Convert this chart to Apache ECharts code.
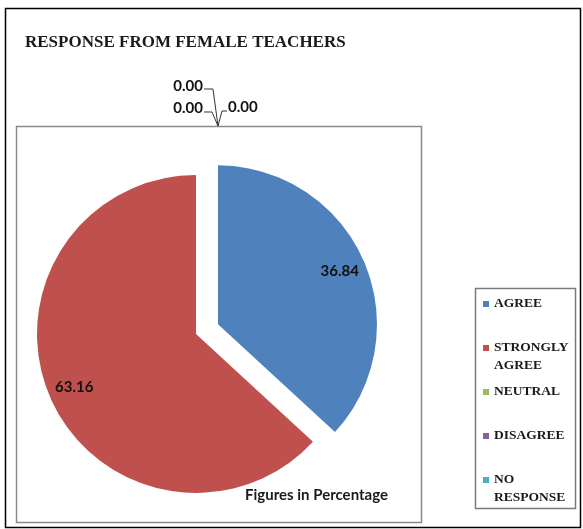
<!DOCTYPE html>
<html><head><meta charset="utf-8">
<script src="https://cdn.jsdelivr.net/npm/echarts@6/dist/echarts.min.js"></script>
<style>html,body{margin:0;padding:0;background:#fff}#c{width:583px;height:529px}</style>
</head><body><div id="c"></div>
<script>
// ---- data ----
const titleText = 'RESPONSE FROM FEMALE TEACHERS';
const noteText = 'Figures in Percentage';
const categories = ['AGREE', 'STRONGLY AGREE', 'NEUTRAL', 'DISAGREE', 'NO RESPONSE'];
const legendLines = [['AGREE', ''], ['STRONGLY', 'AGREE'], ['NEUTRAL', ''], ['DISAGREE', ''], ['NO', 'RESPONSE']];
const values = [36.84, 63.16, 0.00, 0.00, 0.00];
const colors = ['#4F81BD', '#C0504D', '#9BBB59', '#8064A2', '#4BACC6'];
const explodedIndex = 0;

// ---- layout / style ----
const CENTER = [196, 334];
const R = 159;
const OFFSET = 24;
const LABEL_R = 130;
// zero-value label placement relative to the convergence point of their leader lines
const zeroLabels = {
  3: { dx: -15, dy: -40, align: 'right', line: [[-14, -37], [-5, -37], [0, 0]] },
  2: { dx: -15, dy: -18, align: 'right', line: [[-14, -14], [-6, -14], [0, 0]] },
  4: { dx: 10, dy: -19, align: 'left', line: [[9, -15], [4, -15], [0, 0]] }
};

const labelFont = { fontFamily: 'Lato', fontWeight: 'bold', fontSize: 15, color: '#111' };

const mainData = categories.map((n, i) => ({
  name: n, value: values[i], selected: i === explodedIndex,
  itemStyle: { color: colors[i] },
  label: values[i] !== 0 ? { show: false } : { show: true, position: 'outside' },
  labelLine: { show: values[i] === 0 }
}));
const labelData = categories.map((n, i) => ({
  name: n, value: values[i], selected: i === explodedIndex,
  label: { show: values[i] !== 0 }
}));

const chart = echarts.init(document.getElementById('c'), null, { renderer: 'canvas' });
chart.setOption({
  animation: false,
  color: colors,
  title: [
    { text: titleText, left: 25, top: 33, padding: 0,
      textStyle: { fontFamily: 'Liberation Serif', fontWeight: 'bold', fontSize: 17, lineHeight: 20, color: '#1a1a1a' } },
    { text: noteText, left: 245, top: 486, padding: 0,
      textStyle: { fontFamily: 'Lato', fontWeight: 'bold', fontSize: 15, lineHeight: 18, color: '#1a1a1a' } }
  ],
  legend: {
    orient: 'vertical', left: 483, top: 279, padding: 0, itemGap: -6,
    itemWidth: 6, itemHeight: 6, icon: 'rect', selectedMode: false,
    data: categories,
    formatter: function (name) {
      const l = legendLines[categories.indexOf(name)];
      return '{e| }\n{t|' + l[0] + '}\n' + (l[1] ? '{t|' + l[1] + '}' : '{e| }');
    },
    textStyle: {
      rich: {
        t: { fontFamily: 'Liberation Serif', fontWeight: 'bold', fontSize: 13.5, lineHeight: 18, color: '#1a1a1a' },
        e: { fontSize: 13.5, lineHeight: 18 }
      }
    }
  },
  graphic: [
    { type: 'rect', shape: { x: 5.5, y: 8.5, width: 575, height: 519 }, style: { fill: 'none', stroke: '#000', lineWidth: 1.5 }, silent: true },
    { type: 'rect', shape: { x: 16.5, y: 126.5, width: 405, height: 396 }, style: { fill: 'none', stroke: '#8a8a8a', lineWidth: 1.5 }, silent: true },
    { type: 'rect', shape: { x: 475.5, y: 288.5, width: 100, height: 220 }, style: { fill: 'none', stroke: '#7a7a7a', lineWidth: 1.5 }, silent: true }
  ],
  series: [
    {
      type: 'pie', center: CENTER, radius: [0, R], startAngle: 90, clockwise: true,
      selectedMode: 'single', selectedOffset: OFFSET, avoidLabelOverlap: false,
      emphasis: { disabled: true }, itemStyle: { borderWidth: 0 },
      label: Object.assign({ formatter: p => p.value.toFixed(2) }, labelFont),
      labelLine: { length: 10, length2: 10, lineStyle: { color: '#333', width: 1 } },
      labelLayout: function (p) {
        const z = zeroLabels[p.dataIndex];
        if (!z) return {};
        const cx = CENTER[0] + 22, cy = CENTER[1] - R - 49;
        return {
          x: cx + z.dx, y: cy + z.dy, align: z.align, verticalAlign: 'middle',
          labelLinePoints: z.line.map(q => [cx + q[0], cy + q[1]])
        };
      },
      data: mainData
    },
    {
      type: 'pie', center: CENTER, radius: [0, LABEL_R * 2], startAngle: 90, clockwise: true,
      selectedMode: 'single', selectedOffset: OFFSET, avoidLabelOverlap: false, silent: true,
      legendHoverLink: false, emphasis: { disabled: true },
      itemStyle: { color: 'rgba(0,0,0,0)', borderWidth: 0 },
      label: Object.assign({ position: 'inside', formatter: p => p.value.toFixed(2) }, labelFont),
      labelLine: { show: false },
      data: labelData
    }
  ]
});
</script></body></html>
